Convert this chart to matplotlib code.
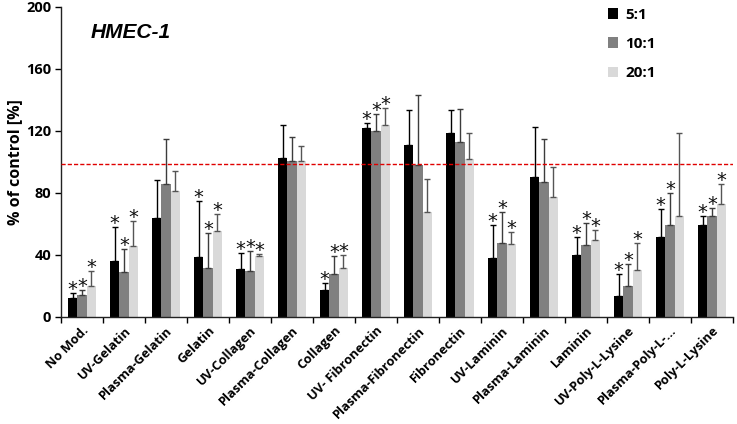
import matplotlib
matplotlib.use('Agg')
import matplotlib.pyplot as plt
import numpy as np

# --- --- --- ---
# --- DATA ---
# --- --- --- ---
categories = ['No Mod.', 'UV-Gelatin', 'Plasma-Gelatin', 'Gelatin', 'UV-Collagen',
              'Plasma-Collagen', 'Collagen', 'UV- Fibronectin', 'Plasma-Fibronectin',
              'Fibronectin', 'UV-Laminin', 'Plasma-Laminin', 'Laminin',
              'UV-Poly-L-Lysine', 'Plasma-Poly-L-...', 'Poly-L-Lysine']
series_names = ['5:1', '10:1', '20:1']

vals_5 = [12.5, 36.3, 63.7, 38.7, 30.8, 102.8, 17.2, 121.7, 111.0, 118.9, 38.3, 90.5, 39.8, 13.8, 51.8, 59.1]
vals_10 = [14.0, 28.8, 86.0, 31.4, 29.5, 100.9, 27.5, 120.0, 97.8, 112.9, 47.7, 86.9, 46.7, 20.0, 59.1, 65.0]
vals_20 = [19.8, 45.8, 81.0, 55.3, 39.4, 100.6, 31.6, 123.7, 67.5, 101.9, 47.3, 77.2, 49.5, 30.1, 65.0, 72.7]

err_5 = [3.0, 21.5, 25.0, 36.0, 10.3, 21.0, 5.0, 3.7, 22.8, 14.9, 21.0, 32.3, 11.8, 14.2, 18.1, 6.3]
err_10 = [3.5, 15.0, 28.8, 23.0, 13.3, 15.0, 12.0, 10.8, 45.4, 21.5, 20.0, 27.7, 14.2, 14.4, 20.7, 5.1]
err_20 = [9.7, 16.0, 13.0, 11.4, 1.5, 9.7, 8.6, 11.3, 21.3, 16.6, 7.3, 19.6, 6.6, 17.9, 53.5, 13.1]

# significance stars (1 = star above bar)
star_5 = [1, 1, 0, 1, 1, 0, 1, 1, 0, 0, 1, 0, 1, 1, 1, 1]
star_10 = [1, 1, 0, 1, 1, 0, 1, 1, 0, 0, 1, 0, 1, 1, 1, 1]
star_20 = [1, 1, 0, 1, 1, 0, 1, 1, 0, 0, 1, 0, 1, 1, 0, 1]

control_level = 99

# --- --- --- ---
# --- STYLE ---
# --- --- --- ---
plt.rcParams['font.family'] = ['Open Sans', 'DejaVu Sans']
bar_colors = ['#000000', '#808080', '#d9d9d9']
err_colors = ['#000000', '#3c3c3c', '#555555']
bar_width = 0.222

# --- --- --- ---
# --- PLOT ---
# --- --- --- ---
fig = plt.figure(figsize=(7.37, 4.24), dpi=100)
ax = fig.add_axes([0.0828, 0.2524, 0.9118, 0.7311])

x = np.arange(len(categories)) + 0.5
all_vals = [vals_5, vals_10, vals_20]
all_errs = [err_5, err_10, err_20]
all_stars = [star_5, star_10, star_20]

handles = []
for k in range(3):
    xs = x + (k - 1) * bar_width
    v = np.array(all_vals[k])
    e = np.array(all_errs[k])
    b = ax.bar(xs, v, width=bar_width, color=bar_colors[k], label=series_names[k], zorder=2)
    handles.append(b)
    ax.errorbar(xs, v, yerr=[np.zeros_like(e), e], fmt='none', ecolor=err_colors[k],
                elinewidth=1.0, capsize=2, capthick=1.0, zorder=3)
    for i in range(len(categories)):
        if all_stars[k][i]:
            ax.annotate('*', (xs[i], v[i] + e[i]), xytext=(0, -1.5), textcoords='offset points',
                        ha='center', va='baseline', fontsize=14, family='DejaVu Sans', color='#111111')

ax.axhline(control_level, color='#e00000', linestyle=(0, (3, 1.5)), linewidth=1.0, zorder=4)

ax.set_xlim(0, len(categories))
ax.set_ylim(0, 200)
ax.set_yticks(np.arange(0, 201, 40))
ax.set_yticklabels([str(t) for t in range(0, 201, 40)], fontsize=10.5, fontweight='bold')
ax.set_xticks(np.arange(0, len(categories) + 1))
ax.set_xticklabels([])
ax.set_xticks(x, minor=True)
ax.set_xticklabels(categories, minor=True, rotation=45, ha='right', rotation_mode='anchor',
                   fontsize=9.3, fontweight='bold')
ax.tick_params(axis='x', which='minor', length=0, pad=5)
ax.tick_params(axis='x', which='major', length=4, width=1)
ax.tick_params(axis='y', length=4, width=1, pad=3)

for s in ['top', 'right']:
    ax.spines[s].set_visible(False)
for s in ['left', 'bottom']:
    ax.spines[s].set_linewidth(1.0)
    ax.spines[s].set_color('#222222')

ax.set_ylabel('% of control [%]', fontsize=11.5, fontweight='bold')
ax.yaxis.set_label_coords(-0.057, 0.5)

fig.text(131 / 737, 1 - 32 / 424, 'HMEC-1', ha='center', va='center', fontsize=15,
         fontweight='bold', fontstyle='italic', family='Liberation Sans')

fig.legend(handles=handles, loc='upper left', bbox_to_anchor=(0.806, 1.014), frameon=False,
           handlelength=0.7, handleheight=0.7, handletextpad=0.45, labelspacing=1.0,
           prop={'weight': 'bold', 'size': 11})

plt.savefig('out.png', dpi=100)
